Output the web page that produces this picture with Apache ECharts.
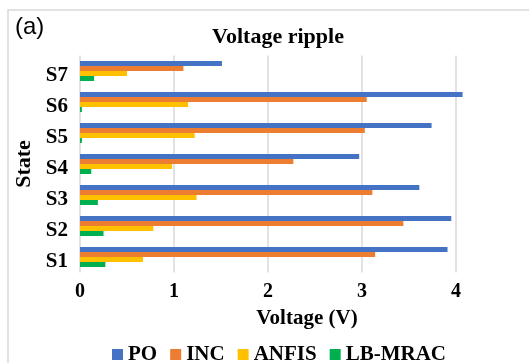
<!DOCTYPE html>
<html>
<head>
<meta charset="utf-8">
<script src="https://cdn.jsdelivr.net/npm/echarts@6/dist/echarts.min.js"></script>
<style>
  html, body { margin: 0; padding: 0; background: #fff; }
  #chart { width: 529px; height: 363px; }
</style>
</head>
<body>
<div id="chart"></div>
<script>
// States listed top to bottom (the y axis is inverted)
const states = ['S7', 'S6', 'S5', 'S4', 'S3', 'S2', 'S1'];
const seriesNames = ['PO', 'INC', 'ANFIS', 'LB-MRAC'];
const colors = ['#4472C4', '#ED7D31', '#FFC000', '#00B050'];

// Voltage ripple (V) per state, same order as `states`
const poValues    = [1.51, 4.07, 3.74, 2.97, 3.61, 3.95, 3.91];
const incValues   = [1.10, 3.05, 3.03, 2.27, 3.11, 3.44, 3.14];
const anfisValues = [0.50, 1.15, 1.22, 0.98, 1.24, 0.78, 0.67];
const mracValues  = [0.15, 0.02, 0.02, 0.12, 0.19, 0.25, 0.27];

const xTicks = [0, 1, 2, 3, 4];

const serif = '"Liberation Serif", "Times New Roman", serif';
const valueSets = [poValues, incValues, anfisValues, mracValues];

const chart = echarts.init(document.getElementById('chart'), null, { renderer: 'canvas' });

chart.setOption({
  animation: false,
  backgroundColor: '#ffffff',
  graphic: [{
    type: 'rect',
    shape: { x: 8, y: 10, width: 700, height: 500 },
    style: { fill: 'none', stroke: '#d9d9d9', lineWidth: 1.5 },
    silent: true,
    z: -1
  }],
  title: [
    {
      text: '(a)',
      left: 10, top: 10,
      textStyle: { fontFamily: '"Liberation Sans", Arial, sans-serif', fontWeight: 'normal', fontSize: 24, color: '#000' }
    },
    {
      text: 'Voltage ripple',
      left: 273, top: 21, textAlign: 'center',
      textStyle: { fontFamily: serif, fontWeight: 'bold', fontSize: 22, color: '#000' }
    }
  ],
  legend: {
    data: seriesNames,
    left: 107, top: 339,
    icon: 'rect',
    itemWidth: 11, itemHeight: 11, itemGap: 13,
    textStyle: { fontFamily: serif, fontWeight: 'bold', fontSize: 21, color: '#000' }
  },
  grid: { left: 80, right: 26, top: 55.5, bottom: 90.5, containLabel: false },
  xAxis: {
    type: 'value',
    min: 0, max: 4.5, interval: 1,
    name: 'Voltage (V)',
    nameLocation: 'middle',
    nameGap: 36,
    nameTextStyle: { fontFamily: serif, fontWeight: 'bold', fontSize: 21, color: '#000', padding: [0, 0, 0, 31] },
    axisLine: { show: false },
    axisTick: { show: false },
    axisLabel: {
      margin: 9,
      fontFamily: serif, fontWeight: 'bold', fontSize: 20, color: '#000',
      showMaxLabel: false,
      formatter: v => (xTicks.indexOf(v) >= 0 ? String(v) : '')
    },
    splitLine: { show: true, showMaxLine: false, lineStyle: { color: '#d9d9d9', width: 1.5 } }
  },
  yAxis: {
    type: 'category',
    data: states,
    inverse: true,
    name: 'State',
    nameLocation: 'middle',
    nameGap: 45,
    nameRotate: 90,
    nameTextStyle: { fontFamily: serif, fontWeight: 'bold', fontSize: 22, color: '#000' },
    axisLine: { show: false },
    axisTick: { show: false },
    axisLabel: {
      margin: 12, verticalAlign: 'top', lineHeight: 10,
      fontFamily: serif, fontWeight: 'bold', fontSize: 21, color: '#000'
    },
    splitLine: { show: false }
  },
  series: seriesNames.map((name, i) => ({
    name: name,
    type: 'bar',
    data: valueSets[i],
    barWidth: 5,
    barGap: '0%',
    itemStyle: { color: colors[i] }
  }))
});
</script>
</body>
</html>
